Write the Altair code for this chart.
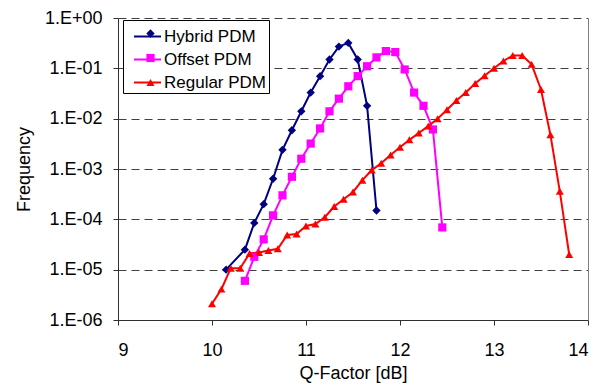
import altair as alt
import pandas as pd

series_names = ["Hybrid PDM", "Offset PDM", "Regular PDM"]
series_colors = ["#000080", "#FF00FF", "#FF0000"]
series_shapes = ["diamond", "square", "triangle-up"]
series_sizes = [70, 64, 110]

hybrid_q = [10.15, 10.35, 10.45, 10.55, 10.65, 10.75, 10.85, 10.95, 11.05, 11.15,
            11.25, 11.35, 11.45, 11.55, 11.65, 11.75]
hybrid_f = [1.0e-5, 2.5e-5, 8.5e-5, 2.0e-4, 6.4e-4, 2.4e-3, 5.9e-3, 1.4e-2, 3.3e-2, 7.0e-2,
            0.15, 0.27, 0.32, 0.15, 0.018, 1.5e-4]

offset_q = [10.35, 10.45, 10.55, 10.65, 10.75, 10.85, 10.95, 11.05, 11.15, 11.25, 11.35,
            11.45, 11.55, 11.65, 11.75, 11.85, 11.95, 12.05, 12.15, 12.25, 12.35, 12.45]
offset_f = [6.0e-6, 1.8e-5, 4.0e-5, 1.2e-4, 3.0e-4, 7.0e-4, 1.6e-3, 3.2e-3, 6.4e-3, 0.014, 0.025,
            0.044, 0.07, 0.11, 0.165, 0.22, 0.21, 0.095, 0.033, 0.018, 6.1e-3, 6.9e-5]

regular_q = [10.0, 10.1, 10.2, 10.3, 10.4, 10.5, 10.6, 10.7, 10.8, 10.9,
             11.0, 11.1, 11.2, 11.3, 11.4, 11.5, 11.6, 11.7, 11.8, 11.9,
             12.0, 12.1, 12.2, 12.3, 12.4, 12.5, 12.6, 12.7, 12.8, 12.9,
             13.0, 13.1, 13.2, 13.3, 13.4, 13.5, 13.6, 13.7, 13.8]
regular_f = [2.1e-6, 4.1e-6, 1.07e-5, 1.07e-5, 2.1e-5, 2.2e-5, 2.4e-5, 2.6e-5, 4.9e-5, 5.1e-5,
             7.4e-5, 8.1e-5, 1.1e-4, 1.8e-4, 2.5e-4, 3.5e-4, 6.0e-4, 9.5e-4, 1.3e-3, 1.9e-3,
             2.7e-3, 3.8e-3, 5.2e-3, 7.1e-3, 1.0e-2, 1.5e-2, 2.3e-2, 3.3e-2, 5.0e-2, 7.1e-2,
             0.10, 0.14, 0.18, 0.18, 0.12, 0.038, 4.8e-3, 3.6e-4, 2.0e-5]

x_ticks = [9, 10, 11, 12, 13, 14]
y_ticks = [1e-6, 1e-5, 1e-4, 1e-3, 1e-2, 1e-1, 1.0]

rows = []
for name, qs, fs in [(series_names[0], hybrid_q, hybrid_f),
                     (series_names[1], offset_q, offset_f),
                     (series_names[2], regular_q, regular_f)]:
    for q, f in zip(qs, fs):
        rows.append({"series": name, "q": q, "f": f})
df = pd.DataFrame(rows)

FONT = "Liberation Sans"

x_scale = alt.Scale(domain=[9, 14], nice=False, zero=False)
y_scale = alt.Scale(type="log", domain=[1e-6, 1], nice=False)

x_axis = alt.Axis(values=x_ticks, title="Q-Factor [dB]", grid=False, format="d",
                  domainColor="#303030", tickColor="#303030", tickSize=5,
                  labelFont=FONT, labelFontSize=18, labelColor="black", labelPadding=16,
                  titleFont=FONT, titleFontSize=18, titleFontWeight="normal",
                  titleColor="black", titlePadding=5)

y_axis_left = alt.Axis(values=y_ticks, title="Frequency", grid=True,
                       gridDash=[8, 5], gridColor="#404040", gridWidth=1,
                       labelExpr="datum.value >= 1 ? '1.E+00' : '1.E-0' + round(-log(datum.value)/LN10)",
                       domainColor="#303030", tickColor="#303030", tickSize=5,
                       labelFont=FONT, labelFontSize=18, labelColor="black", labelPadding=11,
                       titleFont=FONT, titleFontSize=18, titleFontWeight="normal",
                       titleColor="black", titlePadding=11)

y_axis_right = alt.Axis(orient="right", values=y_ticks, title=None, grid=False,
                        labels=False, ticks=False, domainColor="#808080")

lines = alt.Chart(df).mark_line(strokeWidth=2).encode(
    x=alt.X("q:Q", scale=x_scale, axis=x_axis),
    y=alt.Y("f:Q", scale=y_scale, axis=y_axis_left),
    color=alt.Color("series:N",
                    scale=alt.Scale(domain=series_names, range=series_colors),
                    legend=alt.Legend(orient="none", legendX=5, legendY=2, title=None,
                                      symbolType="stroke", symbolSize=729,
                                      symbolStrokeWidth=2, symbolOffset=8,
                                      labelOffset=2, padding=2, rowPadding=0,
                                      labelFont=FONT, labelFontSize=17, labelColor="black",
                                      labelExpr="datum.label + '\u00a0\u00a0'",
                                      strokeColor="black", fillColor="white")),
)

pt_legend = alt.Legend(orient="none", legendX=6, legendY=5, title=None,
                       symbolOffset=16, labelOffset=2, padding=2, rowPadding=6.5,
                       symbolOpacity=1, symbolStrokeWidth=0,
                       labelFont=FONT, labelFontSize=17, labelOpacity=0,
                       labelExpr="datum.label + '\u00a0\u00a0'")

points = alt.Chart(df).mark_point(filled=True, opacity=1).encode(
    x=alt.X("q:Q", scale=x_scale, axis=x_axis),
    y=alt.Y("f:Q", scale=y_scale, axis=y_axis_right),
    color=alt.Color("series:N",
                    scale=alt.Scale(domain=series_names, range=series_colors),
                    legend=pt_legend),
    shape=alt.Shape("series:N", scale=alt.Scale(domain=series_names, range=series_shapes),
                    legend=pt_legend),
    size=alt.Size("series:N", scale=alt.Scale(domain=series_names, range=series_sizes),
                  legend=pt_legend),
)

chart = alt.layer(lines, points).resolve_scale(
    color="independent", shape="independent", size="independent"
).resolve_axis(
    y="independent"
).properties(
    width=470, height=302,
    autosize=alt.AutoSizeParams(type="none"),
    padding={"left": 110, "top": 10, "right": 7, "bottom": 64},
    background="white",
).configure_view(stroke=None)

chart.save("out.html", embed_options={"renderer": "svg", "actions": False})
